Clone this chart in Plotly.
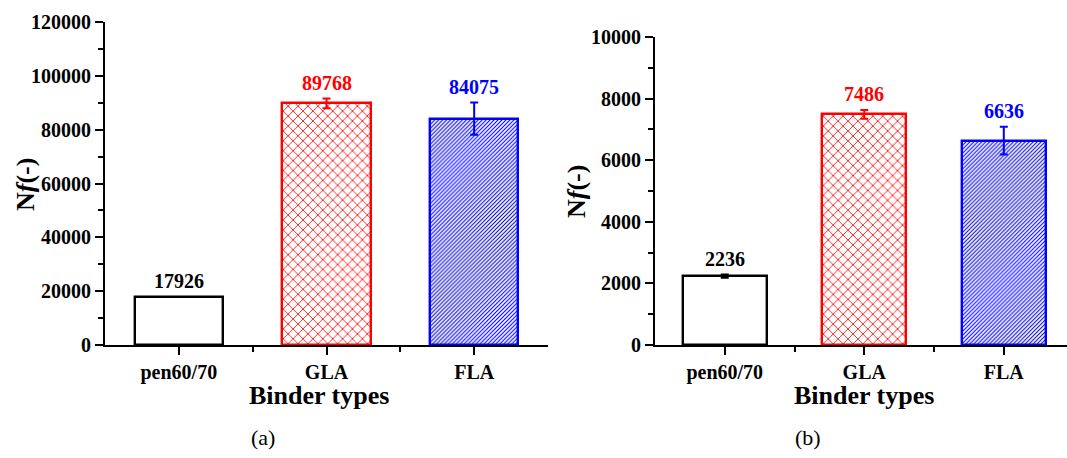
import plotly.graph_objects as go

categories = ["pen60/70", "GLA", "FLA"]
values_a = [17926, 89768, 84075]
errors_a = [0, 1800, 6000]
values_b = [2236, 7486, 6636]
errors_b = [50, 140, 450]
colors = ["#000000", "#FF0000", "#0000FF"]
patterns = ["", "x", "/"]
pattern_sizes = [8, 7, 2.8]
pattern_solid = [0.3, 0.22, 0.4]

W, H = 1067, 458
FONT = "Liberation Serif"

def px_x(p):
    return p / W

def px_y(p):
    return (H - p) / H

fig = go.Figure()

xpos = [0, 1, 2]
for panel, (vals, errs) in enumerate([(values_a, errors_a), (values_b, errors_b)]):
    xa = "x" if panel == 0 else "x2"
    ya = "y" if panel == 0 else "y2"
    for i in range(3):
        fig.add_trace(go.Bar(
            x=[xpos[i]], y=[vals[i]], width=0.6,
            marker=dict(
                color="white",
                line=dict(color=colors[i], width=2.4),
                pattern=dict(shape=patterns[i], fgcolor=colors[i], bgcolor="white",
                             size=pattern_sizes[i], solidity=pattern_solid[i], fillmode="replace"),
            ),
            error_y=dict(type="data", array=[errs[i]], visible=errs[i] > 0,
                         color=colors[i], thickness=2, width=4),
            xaxis=xa, yaxis=ya, showlegend=False,
        ))
        fig.add_annotation(
            x=xpos[i], y=vals[i] + errs[i], xref=xa, yref=ya,
            text=f"{vals[i]}", showarrow=False, yanchor="bottom", yshift=3,
            font=dict(family=FONT, size=20, color=colors[i], weight="bold"),
        )

tickfont = dict(family=FONT, size=20, color="black", weight="bold")
common_x = dict(
    tickmode="array", tickvals=xpos, ticktext=categories,
    showline=True, linecolor="black", linewidth=2.2,
    ticks="outside", ticklen=8, tickwidth=2, tickcolor="black",
    minor=dict(tickmode="array", tickvals=[0.5, 1.5], ticks="outside", ticklen=5,
               tickwidth=2, tickcolor="black"),
    tickfont=tickfont, showgrid=False, zeroline=False, fixedrange=True,
    automargin=False,
)
common_y = dict(
    showline=True, linecolor="black", linewidth=2.2,
    ticks="outside", ticklen=8, tickwidth=2, tickcolor="black",
    tickformat="d", tickfont=tickfont, showgrid=False, zeroline=False,
    automargin=False,
)

fig.update_layout(
    width=W, height=H,
    margin=dict(l=0, r=0, t=0, b=0, autoexpand=False),
    paper_bgcolor="white", plot_bgcolor="white",
    bargap=0,
    xaxis=dict(domain=[px_x(105), px_x(548)], range=[-0.5, 2.5], anchor="y", **common_x),
    yaxis=dict(domain=[px_y(345), px_y(22)], range=[0, 120000], dtick=20000, anchor="x",
               minor=dict(dtick=10000, ticks="outside", ticklen=5, tickwidth=2, tickcolor="black"),
               **common_y),
    xaxis2=dict(domain=[px_x(655), 1.0], range=[-0.5, 2.453], anchor="y2", **common_x),
    yaxis2=dict(domain=[px_y(345), px_y(37)], range=[0, 10000], dtick=2000, anchor="x2",
                minor=dict(dtick=1000, ticks="outside", ticklen=5, tickwidth=2, tickcolor="black"),
                **common_y),
)

title_font = dict(family=FONT, size=26, color="black", weight="bold")
ytitle = "N<i>f</i>(-)"
for xc, yc in [(25, 185), (576, 192)]:
    fig.add_annotation(x=px_x(xc), y=px_y(yc), xref="paper", yref="paper", text=ytitle,
                       textangle=-90, showarrow=False, xanchor="center", yanchor="middle",
                       font=title_font)
for xc in [319, 864]:
    fig.add_annotation(x=px_x(xc), y=px_y(395), xref="paper", yref="paper", text="Binder types",
                       showarrow=False, xanchor="center", yanchor="middle", font=title_font)

cap_font = dict(family=FONT, size=22, color="black")
for xc, t in [(263, "(a)"), (808, "(b)")]:
    fig.add_annotation(x=px_x(xc), y=px_y(437), xref="paper", yref="paper", text=t,
                       showarrow=False, xanchor="center", yanchor="middle", font=cap_font)

fig.write_html("out.html")
